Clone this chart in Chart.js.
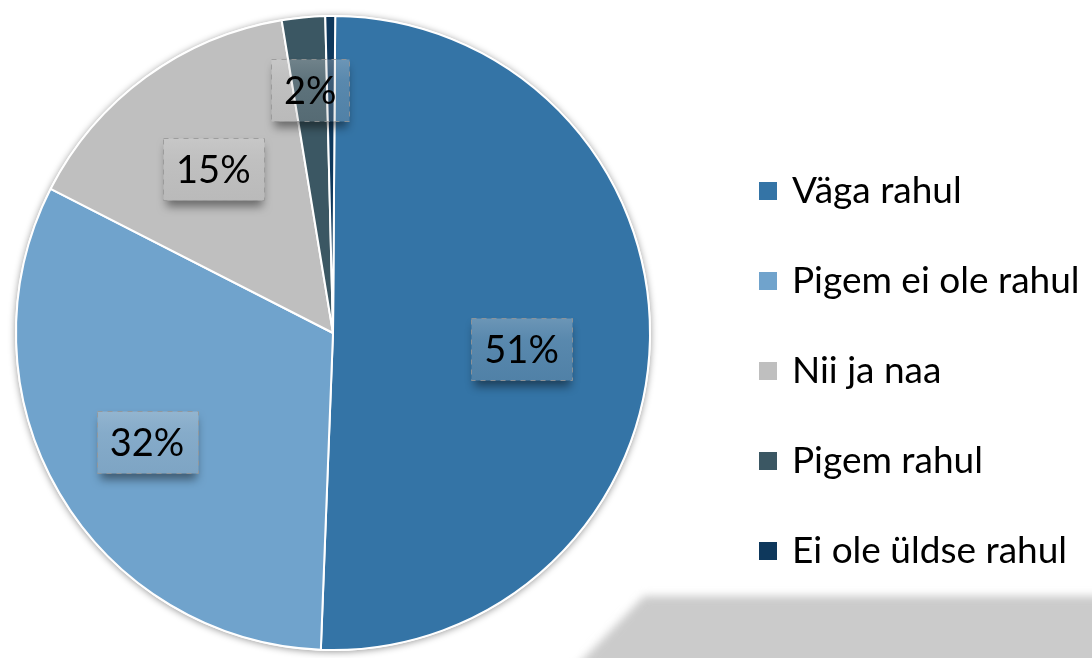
<!DOCTYPE html>
<html>
<head>
<meta charset="utf-8">
<script src="https://cdn.jsdelivr.net/npm/chart.js@4.4.1/dist/chart.umd.min.js"></script>
<style>
  html, body { margin: 0; padding: 0; background: #fff; }
  #wrap { width: 1092px; height: 658px; }
</style>
</head>
<body>
<div id="wrap"><canvas id="pie" width="1092" height="658"></canvas></div>
<script>
// Satisfaction survey pie: Excel-style labels in translucent boxes, legend on the right.

const categories = ["Väga rahul", "Pigem ei ole rahul", "Nii ja naa", "Pigem rahul", "Ei ole üldse rahul"];
const shares = [50.5, 31.9, 14.9, 2.2, 0.5];
const sliceColors = ["#3474a6", "#70a3cc", "#bfbfbf", "#3b5763", "#0e385c"];

const FONT = "Lato, 'Open Sans', sans-serif";

// grey slanted band in the bottom-right corner (slide decoration)
const backdropPlugin = {
  id: "backdrop",
  beforeDraw(chart) {
    const { ctx } = chart;
    ctx.save();
    ctx.filter = "blur(4px)";
    ctx.fillStyle = "#cbcbcb";
    ctx.beginPath();
    ctx.moveTo(644, 596);
    ctx.lineTo(1130, 596);
    ctx.lineTo(1130, 700);
    ctx.lineTo(544, 700);
    ctx.closePath();
    ctx.fill();
    ctx.restore();
  }
};

// soft shadow round the whole pie
const pieShadowPlugin = {
  id: "pieShadow",
  beforeDatasetsDraw(chart) {
    const arc = chart.getDatasetMeta(0).data[0];
    if (!arc) return;
    const { ctx } = chart;
    ctx.save();
    ctx.shadowColor = "rgba(0,0,0,0.4)";
    ctx.shadowBlur = 7;
    ctx.shadowOffsetY = 1;
    ctx.fillStyle = "#fff";
    ctx.beginPath();
    ctx.arc(arc.x, arc.y, arc.outerRadius + 1, 0, Math.PI * 2);
    ctx.fill();
    ctx.restore();
  }
};

const sliceLabelPlugin = {
  id: "sliceLabels",
  afterDatasetsDraw(chart, args, opts) {
    const { ctx } = chart;
    const values = chart.data.datasets[0].data;
    ctx.save();
    ctx.font = opts.fontSize + "px " + FONT;
    chart.getDatasetMeta(0).data.forEach((arc, i) => {
      const v = values[i];
      if (v < 1) return;
      const text = Math.round(v) + "%";
      const mid = (arc.startAngle + arc.endAngle) / 2;
      const r = arc.outerRadius * opts.radial[i];
      const cx = arc.x + Math.cos(mid) * r;
      const cy = arc.y + Math.sin(mid) * r + (opts.nudgeY[i] || 0);
      const w = Math.round(ctx.measureText(text).width + opts.padX * 2), h = opts.boxH;
      const bx = Math.round(cx - w / 2) + 0.5, by = Math.round(cy - h / 2) + 0.5;

      // drop shadow only outside the box
      ctx.save();
      ctx.beginPath();
      ctx.rect(0, 0, chart.width, chart.height);
      ctx.rect(bx, by, w, h);
      ctx.clip("evenodd");
      ctx.shadowColor = "rgba(0,0,0,0.45)";
      ctx.shadowBlur = 9;
      ctx.shadowOffsetX = 10000;
      ctx.shadowOffsetY = 6;
      ctx.fillStyle = "#000";
      ctx.fillRect(bx - 10000 + 2, by, w - 4, h);
      ctx.restore();

      const g = ctx.createLinearGradient(0, by, 0, by + h);
      g.addColorStop(0, "rgba(215,215,215,0.34)");
      g.addColorStop(0.35, "rgba(195,195,195,0.26)");
      g.addColorStop(1, "rgba(170,170,170,0.24)");
      ctx.fillStyle = g;
      ctx.fillRect(bx, by, w, h);
      ctx.setLineDash([5, 5]);
      ctx.strokeStyle = "rgba(150,150,150,0.85)";
      ctx.lineWidth = 1;
      ctx.strokeRect(bx, by, w, h);
      ctx.setLineDash([]);
      ctx.fillStyle = "#000";
      ctx.textAlign = "center";
      ctx.textBaseline = "alphabetic";
      ctx.fillText(text, cx, cy + opts.fontSize * 0.36);
    });
    ctx.restore();
  }
};

const sideLegendPlugin = {
  id: "sideLegend",
  afterDraw(chart, args, opts) {
    const { ctx } = chart;
    const colors = chart.data.datasets[0].backgroundColor;
    ctx.save();
    ctx.font = opts.fontSize + "px " + FONT;
    ctx.textAlign = "left";
    ctx.textBaseline = "alphabetic";
    chart.data.labels.forEach((label, i) => {
      const cy = opts.top + i * opts.step;
      ctx.fillStyle = colors[i];
      ctx.fillRect(opts.x, cy - opts.box / 2, opts.box, opts.box);
      ctx.fillStyle = "#000";
      ctx.fillText(label, opts.x + opts.box + opts.gap, cy + opts.baseline);
    });
    ctx.restore();
  }
};

new Chart(document.getElementById("pie"), {
  type: "pie",
  data: {
    labels: categories,
    datasets: [{
      data: shares,
      backgroundColor: sliceColors,
      borderColor: "#ffffff",
      borderWidth: 2,
    }],
  },
  options: {
    responsive: false,
    animation: false,
    rotation: 0.4,
    layout: { padding: { left: 15, top: 15, right: 441, bottom: 7 } },
    plugins: {
      legend: { display: false },
      tooltip: { enabled: false },
      sliceLabels: {
        radial: [0.595, 0.68, 0.64, 0.77, 0],
        nudgeY: [12, 0, 0, 0, 0],
        padX: 13, boxH: 62, fontSize: 38,
      },
      sideLegend: { x: 759, top: 191, step: 90, box: 18, gap: 15, baseline: 12, fontSize: 37 },
    },
  },
  plugins: [backdropPlugin, pieShadowPlugin, sliceLabelPlugin, sideLegendPlugin],
});
</script>
</body>
</html>
